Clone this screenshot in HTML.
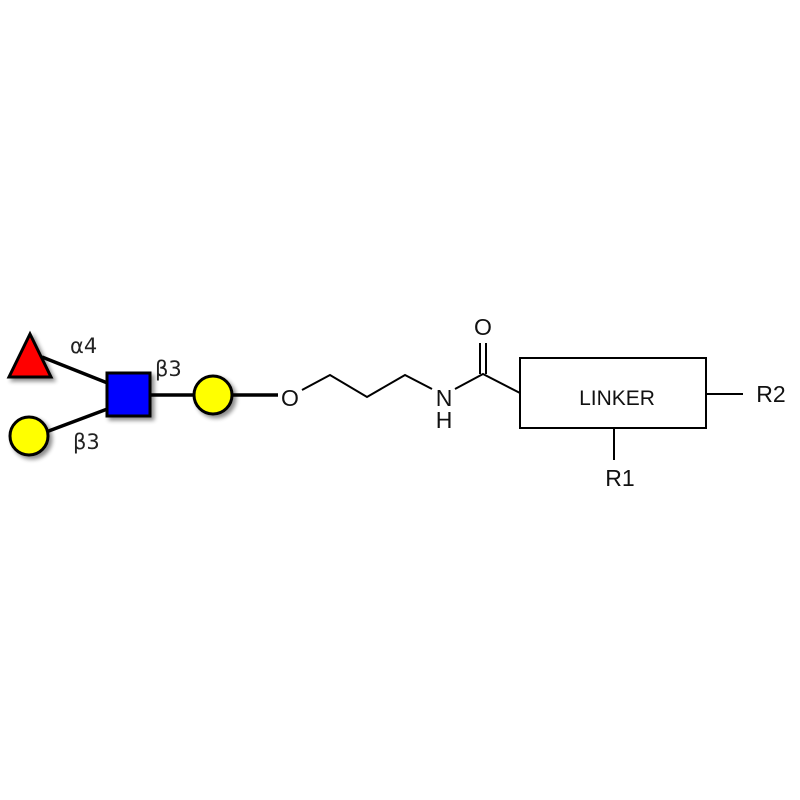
<!DOCTYPE html>
<html><head><meta charset="utf-8"><style>
html,body{margin:0;padding:0;background:#fff;}
svg{display:block;}
</style></head><body>
<svg width="800" height="800" viewBox="0 0 800 800" xmlns="http://www.w3.org/2000/svg">
<defs>
<filter id="sh" x="-30%" y="-30%" width="160%" height="160%">
<feGaussianBlur in="SourceAlpha" stdDeviation="2"/>
<feOffset dx="3" dy="3"/>
<feComponentTransfer><feFuncA type="linear" slope="0.45"/></feComponentTransfer>
<feMerge><feMergeNode/><feMergeNode in="SourceGraphic"/></feMerge>
</filter>
</defs>
<g stroke="#000" stroke-width="3.5" fill="none">
<line x1="42" y1="357" x2="110" y2="384"/>
<line x1="46" y1="432" x2="110" y2="408"/>
<line x1="150" y1="395" x2="195" y2="395"/>
<line x1="231" y1="395" x2="278" y2="395"/>
</g>
<g filter="url(#sh)" stroke="#000" stroke-width="3">
<polygon points="30,334 9,377 51,377" fill="#f00"/>
<rect x="107" y="373" width="43" height="43" fill="#00f"/>
<circle cx="29" cy="436" r="19" fill="#ff0"/>
<circle cx="213" cy="395" r="19" fill="#ff0"/>
</g>
<g font-family="DejaVu Sans, sans-serif" font-size="21" fill="#222">
<text x="70" y="353">α4</text>
<text x="155" y="376">β3</text>
<text x="73" y="449">β3</text>
</g>
<g stroke="#000" stroke-width="2" fill="none">
<polyline points="302,390 330,375 367,397 405,375 432,389"/>
<polyline points="455,389 483,374 520,393"/>
<line x1="480" y1="374" x2="480" y2="343"/>
<line x1="486" y1="374" x2="486" y2="343"/>
<rect x="520" y="358" width="186" height="70"/>
<line x1="614" y1="428" x2="614" y2="460"/>
<line x1="706" y1="394" x2="743" y2="394"/>
</g>
<g font-family="Liberation Sans, sans-serif" font-size="23" fill="#111" text-anchor="middle">
<text x="290" y="406">O</text>
<text x="444" y="406">N</text>
<text x="444" y="428">H</text>
<text x="483" y="335">O</text>
<text x="617" y="405" font-size="21">LINKER</text>
<text x="620" y="486">R1</text>
<text x="771" y="402">R2</text>
</g>
</svg>
</body></html>
